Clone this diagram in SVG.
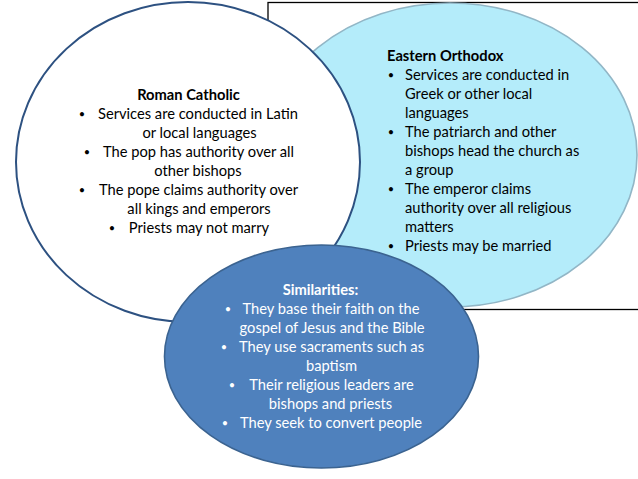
<svg xmlns="http://www.w3.org/2000/svg" width="638" height="479" viewBox="0 0 638 479">
<style>
.t{font-family:Lato,"Open Sans","Liberation Sans",sans-serif;font-size:14.7px;fill:#000}
.d{font-family:Lato,"Open Sans","Liberation Sans",sans-serif;font-size:11px;fill:#000;text-anchor:middle}
.b{font-weight:bold}
.m{text-anchor:middle}
.w{fill:#ffffff}
</style>
<rect x="0" y="0" width="638" height="479" fill="#ffffff"/>
<rect id="frame" x="268" y="2.5" width="420" height="307" fill="none" stroke="#000" stroke-width="1.3"/>
<g id="connectors"></g>
<g id="eastern-orthodox">
<ellipse cx="450" cy="155" rx="187" ry="152" fill="#b4ecfa" stroke="#92b6c6" stroke-width="1.6"/>
<text class="t b" x="387" y="61">Eastern Orthodox</text>
<text class="d" x="391" y="79">•</text><text class="t" x="405" y="80">Services are conducted in</text>
<text class="t" x="405" y="99">Greek or other local</text>
<text class="t" x="405" y="118">languages</text>
<text class="d" x="391" y="136">•</text><text class="t" x="405" y="137">The patriarch and other</text>
<text class="t" x="405" y="156">bishops head the church as</text>
<text class="t" x="405" y="175">a group</text>
<text class="d" x="391" y="193">•</text><text class="t" x="405" y="194">The emperor claims</text>
<text class="t" x="405" y="213">authority over all religious</text>
<text class="t" x="405" y="232">matters</text>
<text class="d" x="391" y="250">•</text><text class="t" x="405" y="251">Priests may be married</text>
</g>
<g id="roman-catholic">
<ellipse cx="188" cy="162" rx="172" ry="160" fill="#ffffff" stroke="#2d5181" stroke-width="2"/>
<text class="t b m" x="188.5" y="100">Roman Catholic</text>
<text class="d" x="82" y="118">•</text><text class="t m" x="198" y="119">Services are conducted in Latin</text>
<text class="t m" x="199.5" y="138">or local languages</text>
<text class="d" x="87" y="156">•</text><text class="t m" x="198.5" y="157">The pop has authority over all</text>
<text class="t m" x="198" y="176">other bishops</text>
<text class="d" x="82" y="194">•</text><text class="t m" x="198.5" y="195">The pope claims authority over</text>
<text class="t m" x="199" y="214">all kings and emperors</text>
<text class="d" x="112" y="232">•</text><text class="t m" x="199" y="233">Priests may not marry</text>
</g>
<g id="similarities">
<ellipse cx="321.5" cy="356.5" rx="157" ry="111.5" fill="#4f81bd" stroke="#3b6390" stroke-width="1.6"/>
<text class="t b m w" x="320.5" y="295">Similarities:</text>
<text class="d w" x="228" y="313">•</text><text class="t m w" x="331" y="314">They base their faith on the</text>
<text class="t m w" x="332" y="333">gospel of Jesus and the Bible</text>
<text class="d w" x="224" y="351">•</text><text class="t m w" x="331.5" y="352">They use sacraments such as</text>
<text class="t m w" x="331.5" y="371">baptism</text>
<text class="d w" x="232" y="389">•</text><text class="t m w" x="331.5" y="390">Their religious leaders are</text>
<text class="t m w" x="330.5" y="409">bishops and priests</text>
<text class="d w" x="225" y="427">•</text><text class="t m w" x="331" y="428">They seek to convert people</text>
</g>
</svg>
